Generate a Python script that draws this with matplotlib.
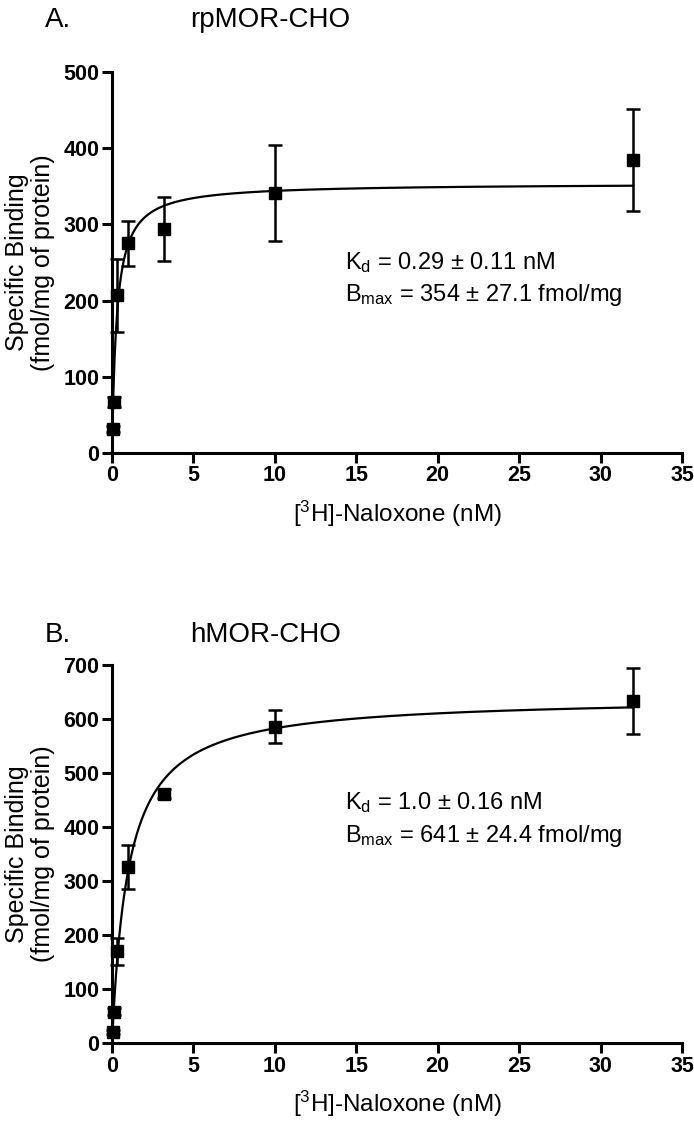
import numpy as np
import matplotlib.pyplot as plt

plt.rcParams['font.family'] = ['Liberation Sans', 'DejaVu Sans']
plt.rcParams['mathtext.fontset'] = 'custom'
plt.rcParams['mathtext.rm'] = 'Liberation Sans'

# concentrations (nM)
conc = [0.03, 0.1, 0.3, 1.0, 3.2, 10.0, 32.0]

# panel A: rpMOR-CHO
a_mean = [31, 67, 207, 275, 294, 341, 384]
a_err = [4, 6, 48, 29, 42, 63, 67]
a_kd, a_bmax = 0.29, 354

# panel B: hMOR-CHO
b_mean = [20, 58, 170, 326, 462, 586, 633]
b_err = [4, 6, 25, 40, 9, 31, 61]
b_kd, b_bmax = 1.0, 641

panels = [
    ('A.', 'rpMOR-CHO', a_mean, a_err, a_kd, a_bmax, 500,
     'K$\\mathregular{_d}$ = 0.29 \u00b1 0.11 nM', 'B$\\mathregular{_{max}}$ = 354 \u00b1 27.1 fmol/mg', (250, 207)),
    ('B.', 'hMOR-CHO', b_mean, b_err, b_kd, b_bmax, 700,
     'K$\\mathregular{_d}$ = 1.0 \u00b1 0.16 nM', 'B$\\mathregular{_{max}}$ = 641 \u00b1 24.4 fmol/mg', (445, 384)),
]

fig = plt.figure(figsize=(6.94, 11.26), dpi=100)
rects = [[0.1614, 0.5977, 0.8213, 0.3383], [0.1614, 0.0737, 0.8213, 0.3357]]
title_y = [0.982, 0.436]

for i, (lab, name, mean, err, kd, bmax, ymax, t1, t2, ty) in enumerate(panels):
    ax = fig.add_axes(rects[i])
    xx = np.linspace(0, 32, 400)
    ax.plot(xx, bmax * xx / (kd + xx), color='black', lw=1.6, clip_on=False)
    ax.errorbar(conc, mean, yerr=err, fmt='s', color='black', ms=8, capsize=5,
                elinewidth=1.8, capthick=1.8, clip_on=False)
    ax.set_xlim(0, 35)
    ax.set_ylim(0, ymax)
    ax.set_xticks(np.arange(0, 36, 5))
    ax.set_yticks(np.arange(0, ymax + 1, 100))
    for s in ['top', 'right']:
        ax.spines[s].set_visible(False)
    for s in ['left', 'bottom']:
        ax.spines[s].set_linewidth(2.2)
    ax.tick_params(width=2.2, length=7, labelsize=15.5, pad=2)
    for t in ax.get_xticklabels() + ax.get_yticklabels():
        t.set_fontweight('bold')
    ax.set_xlabel('[$\\mathregular{^3}$H]-Naloxone (nM)', fontsize=17.5, labelpad=9)
    ax.set_ylabel('Specific Binding\n(fmol/mg of protein)', fontsize=18, linespacing=1.1)
    ax.yaxis.set_label_coords(-0.1, 0.5)
    ax.text(14.3, ty[0], t1, fontsize=17, va='center')
    ax.text(14.3, ty[1], t2, fontsize=17, va='center')
    fig.text(0.065, title_y[i], lab, fontsize=20, va='center')
    fig.text(0.274, title_y[i], name, fontsize=20, va='center')

fig.savefig('out.png', dpi=100)
